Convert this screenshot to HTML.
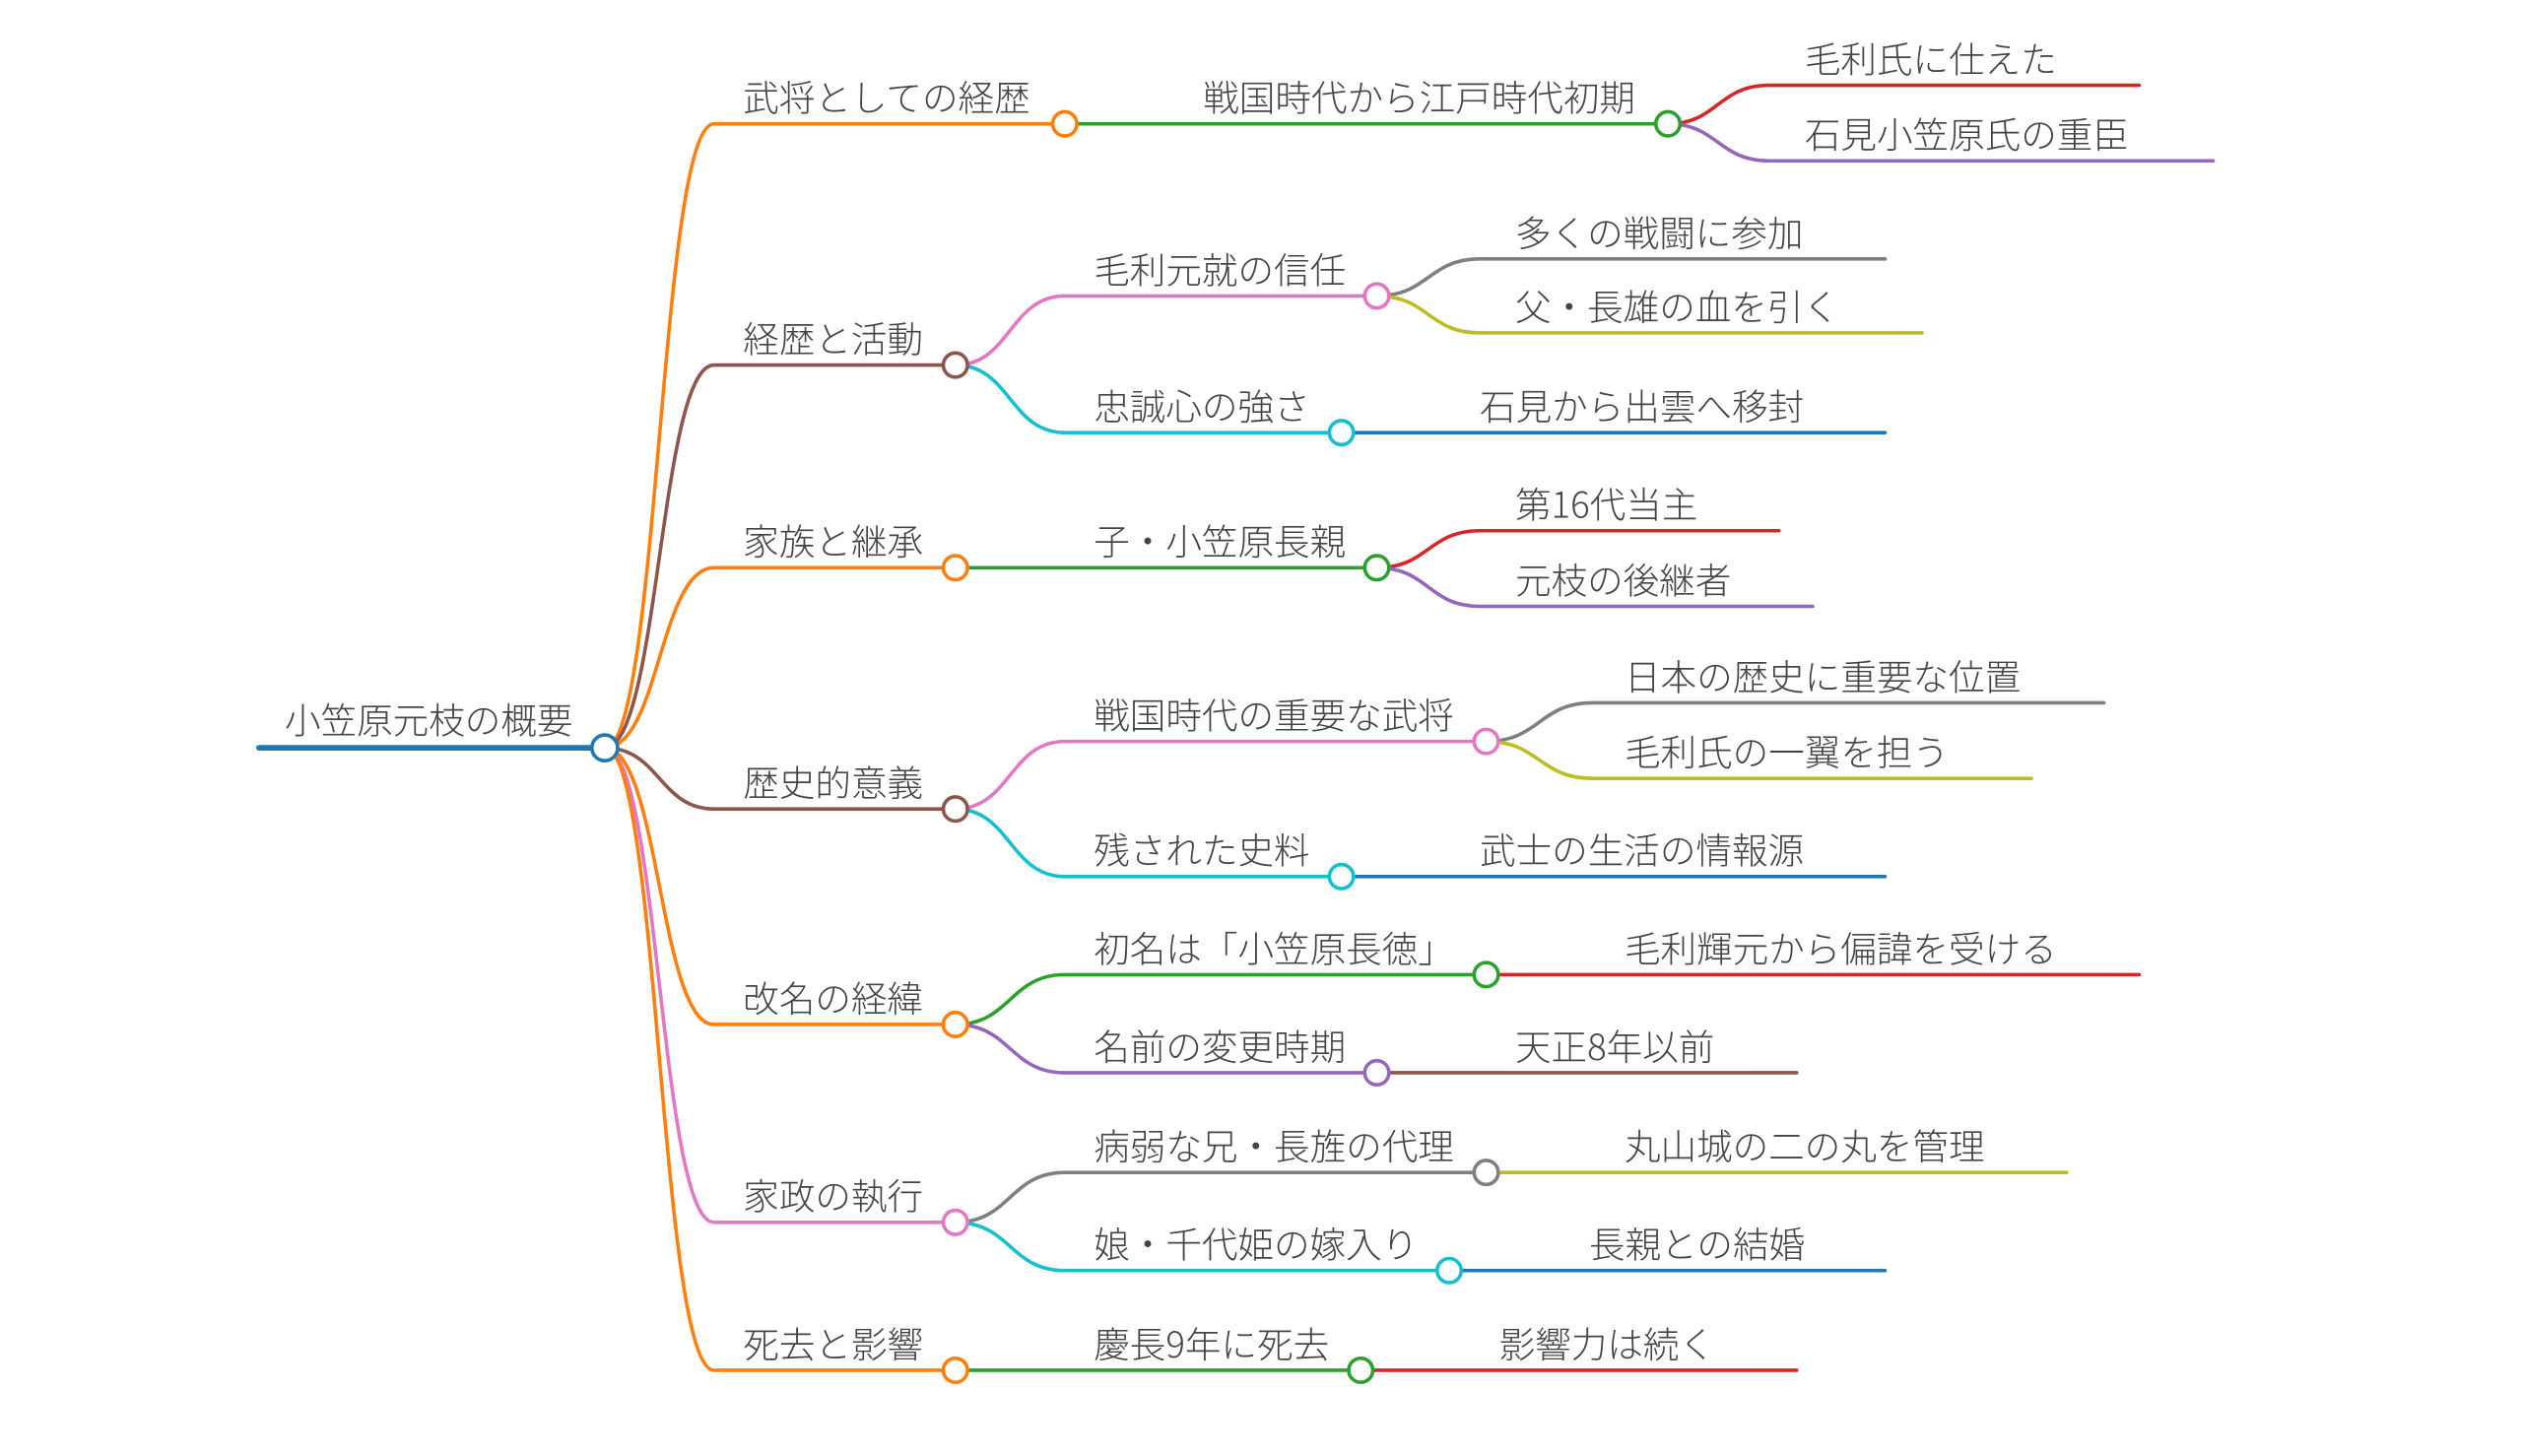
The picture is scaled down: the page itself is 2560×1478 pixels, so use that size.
<!DOCTYPE html>
<html><head><meta charset="utf-8"><style>
html,body{margin:0;padding:0;background:#fff;width:2560px;height:1478px;overflow:hidden}
svg{display:block}
text{font-family:"Noto Sans CJK JP","Liberation Sans",sans-serif;font-size:22.4px;fill:#444;font-weight:300}
path,line{fill:none;stroke-width:2.2;stroke-linecap:round}
circle{fill:#fff;stroke-width:2.2}
</style></head><body>
<svg width="2560" height="1478" viewBox="0 0 1568 905.3" preserveAspectRatio="none">
<line x1="161" y1="465" x2="376" y2="465" stroke="#1f77b4" style="stroke-width:3.5"/>
<path d="M376 465 C410 465 410 77 444 77 L662 77" stroke="#ff7f0e"/>
<path d="M376 465 C410 465 410 227 444 227 L594 227" stroke="#8c564b"/>
<path d="M376 465 C410 465 410 353 444 353 L594 353" stroke="#ff7f0e"/>
<path d="M376 465 C410 465 410 503 444 503 L594 503" stroke="#8c564b"/>
<path d="M376 465 C410 465 410 637 444 637 L594 637" stroke="#ff7f0e"/>
<path d="M376 465 C410 465 410 760 444 760 L594 760" stroke="#e377c2"/>
<path d="M376 465 C410 465 410 852 444 852 L594 852" stroke="#ff7f0e"/>
<path d="M662 77 L1037 77" stroke="#2ca02c"/>
<path d="M594 227 C628 227 628 184 662 184 L856 184" stroke="#e377c2"/>
<path d="M594 227 C628 227 628 269 662 269 L834 269" stroke="#17becf"/>
<path d="M594 353 L856 353" stroke="#2ca02c"/>
<path d="M594 503 C628 503 628 461 662 461 L924 461" stroke="#e377c2"/>
<path d="M594 503 C628 503 628 545 662 545 L834 545" stroke="#17becf"/>
<path d="M594 637 C628 637 628 606 662 606 L924 606" stroke="#2ca02c"/>
<path d="M594 637 C628 637 628 667 662 667 L856 667" stroke="#9467bd"/>
<path d="M594 760 C628 760 628 729 662 729 L924 729" stroke="#7f7f7f"/>
<path d="M594 760 C628 760 628 790 662 790 L901 790" stroke="#17becf"/>
<path d="M594 852 L846 852" stroke="#2ca02c"/>
<path d="M1037 77 C1068 77 1068 53 1100 53 L1330 53" stroke="#d62728"/>
<path d="M1037 77 C1068 77 1068 100 1100 100 L1376 100" stroke="#9467bd"/>
<path d="M856 184 C888 184 888 161 920 161 L1172 161" stroke="#7f7f7f"/>
<path d="M856 184 C888 184 888 207 920 207 L1195 207" stroke="#bcbd22"/>
<path d="M834 269 L1172 269" stroke="#1f77b4"/>
<path d="M856 353 C888 353 888 330 920 330 L1106 330" stroke="#d62728"/>
<path d="M856 353 C888 353 888 377 920 377 L1127 377" stroke="#9467bd"/>
<path d="M924 461 C957 461 957 437 990 437 L1308 437" stroke="#7f7f7f"/>
<path d="M924 461 C957 461 957 484 990 484 L1263 484" stroke="#bcbd22"/>
<path d="M834 545 L1172 545" stroke="#1f77b4"/>
<path d="M924 606 L1330 606" stroke="#d62728"/>
<path d="M856 667 L1117 667" stroke="#8c564b"/>
<path d="M924 729 L1285 729" stroke="#bcbd22"/>
<path d="M901 790 L1172 790" stroke="#1f77b4"/>
<path d="M846 852 L1117 852" stroke="#d62728"/>
<circle cx="376" cy="465" r="8" stroke="#1f77b4"/>
<circle cx="662" cy="77" r="7.5" stroke="#ff7f0e"/>
<circle cx="594" cy="227" r="7.5" stroke="#8c564b"/>
<circle cx="594" cy="353" r="7.5" stroke="#ff7f0e"/>
<circle cx="594" cy="503" r="7.5" stroke="#8c564b"/>
<circle cx="594" cy="637" r="7.5" stroke="#ff7f0e"/>
<circle cx="594" cy="760" r="7.5" stroke="#e377c2"/>
<circle cx="594" cy="852" r="7.5" stroke="#ff7f0e"/>
<circle cx="1037" cy="77" r="7.5" stroke="#2ca02c"/>
<circle cx="856" cy="184" r="7.5" stroke="#e377c2"/>
<circle cx="834" cy="269" r="7.5" stroke="#17becf"/>
<circle cx="856" cy="353" r="7.5" stroke="#2ca02c"/>
<circle cx="924" cy="461" r="7.5" stroke="#e377c2"/>
<circle cx="834" cy="545" r="7.5" stroke="#17becf"/>
<circle cx="924" cy="606" r="7.5" stroke="#2ca02c"/>
<circle cx="856" cy="667" r="7.5" stroke="#9467bd"/>
<circle cx="924" cy="729" r="7.5" stroke="#7f7f7f"/>
<circle cx="901" cy="790" r="7.5" stroke="#17becf"/>
<circle cx="846" cy="852" r="7.5" stroke="#2ca02c"/>
<text x="177" y="456">小笠原元枝の概要</text>
<text x="462" y="69">武将としての経歴</text>
<text x="462" y="219">経歴と活動</text>
<text x="462" y="345">家族と継承</text>
<text x="462" y="495">歴史的意義</text>
<text x="462" y="629">改名の経緯</text>
<text x="462" y="752">家政の執行</text>
<text x="462" y="844">死去と影響</text>
<text x="748" y="69">戦国時代から江戸時代初期</text>
<text x="680" y="176">毛利元就の信任</text>
<text x="680" y="261">忠誠心の強さ</text>
<text x="680" y="345">子・小笠原長親</text>
<text x="680" y="453">戦国時代の重要な武将</text>
<text x="680" y="537">残された史料</text>
<text x="680" y="598">初名は「小笠原長徳」</text>
<text x="680" y="659">名前の変更時期</text>
<text x="680" y="721">病弱な兄・長旌の代理</text>
<text x="680" y="782">娘・千代姫の嫁入り</text>
<text x="680" y="844">慶長9年に死去</text>
<text x="1122" y="45">毛利氏に仕えた</text>
<text x="1122" y="92">石見小笠原氏の重臣</text>
<text x="942" y="153">多くの戦闘に参加</text>
<text x="942" y="199">父・長雄の血を引く</text>
<text x="920" y="261">石見から出雲へ移封</text>
<text x="942" y="322">第16代当主</text>
<text x="942" y="369">元枝の後継者</text>
<text x="1010" y="429">日本の歴史に重要な位置</text>
<text x="1010" y="476">毛利氏の一翼を担う</text>
<text x="920" y="537">武士の生活の情報源</text>
<text x="1010" y="598">毛利輝元から偏諱を受ける</text>
<text x="942" y="659">天正8年以前</text>
<text x="1010" y="721">丸山城の二の丸を管理</text>
<text x="988" y="782">長親との結婚</text>
<text x="932" y="844">影響力は続く</text>
</svg>
</body></html>
